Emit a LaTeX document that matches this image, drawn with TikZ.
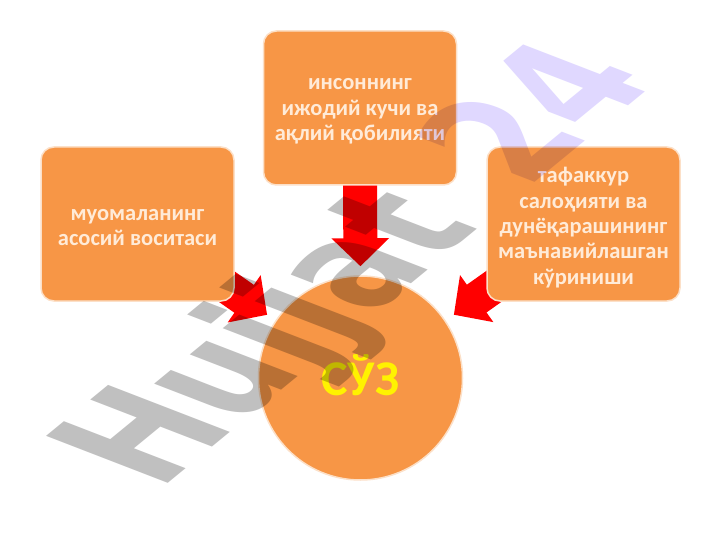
\documentclass[tikz,border=0pt]{standalone}
\usepackage{fontspec}
\setmainfont{Carlito}
\newfontfamily\wmfont{DejaVu Sans}
\usetikzlibrary{arrows.meta}
\definecolor{boxfill}{HTML}{F79646}
\definecolor{boxedge}{HTML}{FCE0C8}
\definecolor{boxtext}{HTML}{FFEBD8}
\definecolor{wmgray}{HTML}{C0C0C0}
\definecolor{wmlav}{HTML}{E0D8FF}
\tikzset{
  card/.style={draw=boxedge,line width=1.5pt,fill=boxfill,rounded corners=13pt,
    minimum width=193pt,minimum height=154pt,inner sep=0pt},
  cardtext/.style={inner sep=0pt,align=center,text=boxtext,yshift=-3.5pt,
    font=\fontsize{22.5}{25.3}\selectfont\bfseries},
  hub/.style={circle,draw=boxedge,line width=1.5pt,fill=boxfill,minimum size=204pt,inner sep=0pt},
  blockarrow/.style={draw=red,line width=34pt,-{Triangle[width=56pt,length=28pt,fill=red]}},
  watermark/.style={transform shape,anchor=base west,inner sep=0pt,
    font=\wmfont\fontsize{100}{100}\selectfont\bfseries}
}
\begin{document}
\begin{tikzpicture}[x=1pt,y=-1pt]
\useasboundingbox (0,0) rectangle (720,540);
\fill[white] (0,0) rectangle (720,540);
\coordinate (lstart) at (210,275);
\coordinate (rstart) at (510,275);
\node[hub] (hubc) at (360.5,378) {};
\coordinate (leftb) at (137.5,224);
\coordinate (rightb) at (583.5,224);
\coordinate (topb) at (360,108);
\coordinate (tops) at (360,185);
\draw[blockarrow,shorten >=10pt] (lstart) -- (hubc.146);
\draw[blockarrow,shorten >=10pt] (rstart) -- (hubc.34);
\draw[blockarrow,shorten >=9pt] (tops) -- (hubc.north);
\node[card] (leftc) at (leftb) {};
\node[card] (topc) at (topb) {};
\node[card] (rightc) at (rightb) {};
\node[cardtext] (leftt) at (leftc) {муомаланинг\\асосий воситаси};
\node[cardtext] (topt) at (topc) {инсоннинг\\ижодий кучи ва\\ақлий қобилияти};
\node[cardtext] (rightt) at (rightc) {тафаккур\\салоҳияти ва\\дунёқарашининг\\маънавийлашган\\кўриниши};
\node[font=\fontsize{50}{52}\selectfont\bfseries,text=yellow,inner sep=0pt,yshift=3pt] (hubt) at (hubc) {СЎЗ};
\begin{scope}[blend mode=multiply]
\node[watermark,cm={.95,.78,-1.67,.645,(159,491)}] (mark) {\color{wmgray}Hujjat\hspace{49pt}\color{wmlav}24};
\end{scope}
\end{tikzpicture}
\end{document}
